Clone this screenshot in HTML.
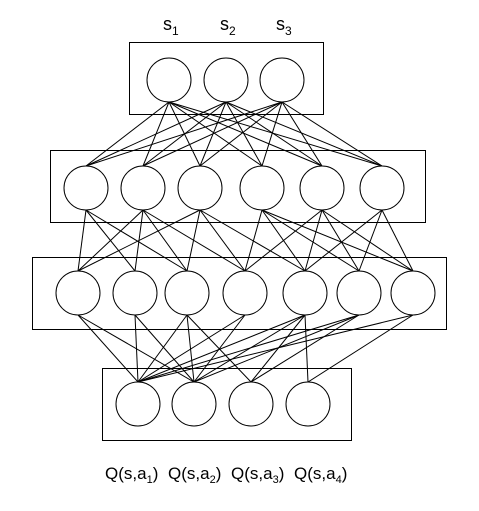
<!DOCTYPE html>
<html><head><meta charset="utf-8"><style>
html,body{margin:0;padding:0;background:#fff;}
svg{display:block;font-family:"Liberation Sans",sans-serif;}
</style></head><body>
<svg id="net" width="479" height="511" viewBox="0 0 479 511">
<g id="boxes"></g><g id="edges"></g><g id="nodes"></g><g id="labels"></g>
</svg>
<script>
const layerX = [[169,226,282],[86,143,200,262,322,382],[78,135,187,245,305,359,413],[138,194,251,308]];
const layerY = [80,188,293,404];
const boxRects = [[129,42,194,72],[50,150,375,72],[32,257,414,72],[102,368,249,72]];
const edges12 = [[0,1,2,3,4,5],[0,1,2,3,4,5],[0,1,2,3,4,5]];
const edges23 = [[0,1,2],[0,1,2,3],[0,2,3,4],[3,4,5,6],[3,4,5,6],[4,5,6]];
const edges34 = [[0,1],[0,1],[0,1,2],[0,1],[0,1,2,3],[0,1,2],[0,3]];
const inLabels = ["1","2","3"];
const outLabels = ["1","2","3","4"];
const R = 22;
const NS = "http://www.w3.org/2000/svg";
function mk(tag, attrs, parent){const e=document.createElementNS(NS,tag);for(const k in attrs)e.setAttribute(k,attrs[k]);document.getElementById(parent).appendChild(e);return e;}
boxRects.forEach((b,i)=>{
  const r=mk('rect',{x:b[0]+0.5,y:b[1]+0.5,width:b[2],height:b[3],fill:'none',stroke:'#000','stroke-width':1},'boxes');
  
  
});
[edges12,edges23,edges34].forEach((E,l)=>{
  E.forEach((targets,i)=>{
    targets.forEach(j=>{
      const ln=mk('line',{x1:layerX[l][i],y1:layerY[l]+R,x2:layerX[l+1][j],y2:layerY[l+1]-R,stroke:'#000','stroke-width':1},'edges');
      
      
    });
  });
});
layerX.forEach((xs,l)=>{
  xs.forEach((x,i)=>{
    const c=mk('circle',{cx:x,cy:layerY[l],r:R,fill:'#fff',stroke:'#000','stroke-width':1},'nodes');
    
    
  });
});
inLabels.forEach((s,i)=>{
  const t=mk('text',{x:layerX[0][i]-6,y:30,'font-size':18,fill:'#000'},'labels');
  
  
  t.innerHTML='s<tspan font-size="12" dy="5">'+s+'</tspan>';
});
outLabels.forEach((a,i)=>{
  const t=mk('text',{x:105+i*63,y:479,'font-size':17,fill:'#000'},'labels');
  
  
  t.innerHTML='Q(s,a<tspan font-size="11" dy="4">'+a+'</tspan><tspan dy="-4">)</tspan>';
});
</script>
</body></html>
